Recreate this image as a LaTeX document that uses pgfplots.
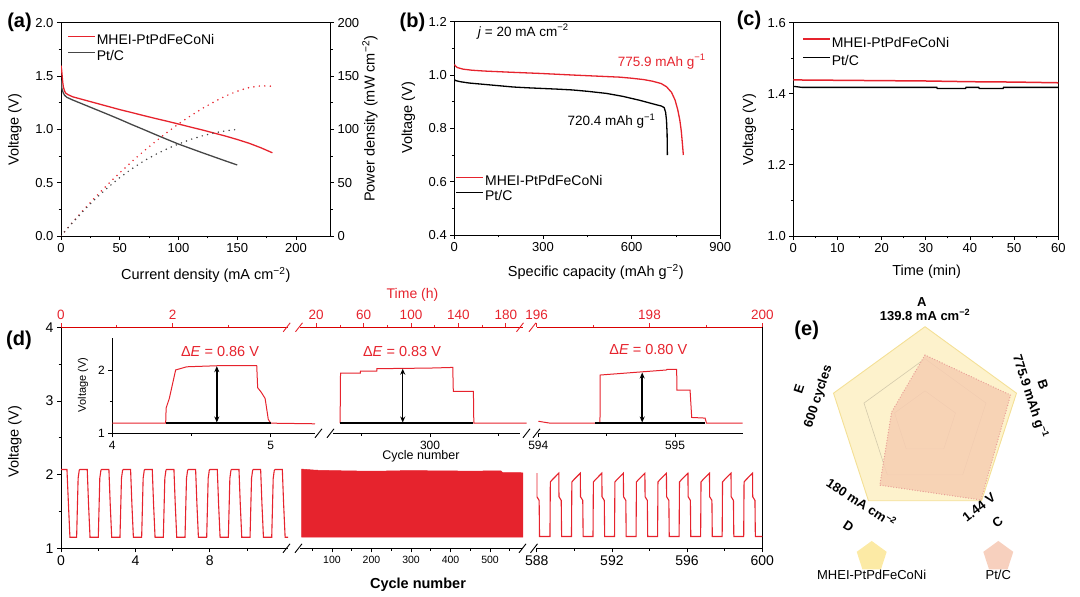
\documentclass[border=0pt]{standalone}
\usepackage{fontspec}
\setmainfont{Liberation Sans}
\usepackage{pgfplots}
\pgfplotsset{compat=1.18}
\usepgfplotslibrary{polar}
\usetikzlibrary{arrows.meta,shapes.geometric}

\definecolor{cred}{RGB}{230,35,45}
\definecolor{cgray}{RGB}{70,70,70}
\definecolor{eyel}{RGB}{253,242,204}
\definecolor{eyelline}{RGB}{244,224,150}
\definecolor{eyelleg}{RGB}{252,234,165}
\definecolor{epink}{RGB}{247,206,178}
\definecolor{epinkline}{RGB}{232,158,150}
\definecolor{epinkleg}{RGB}{247,208,190}
\definecolor{ering}{RGB}{212,202,172}

\newcommand\ft{\fontsize{13}{15}\selectfont}
\newcommand\fl{\fontsize{14.5}{16}\selectfont}
\newcommand\fpan{\fontsize{20}{22}\selectfont\bfseries}

\pgfplotsset{
  base/.style={scale only axis, anchor=south west, tick align=outside,
    major tick length=4pt, minor tick length=2.5pt,
    tick style={black, line width=0.8pt},
    axis line style={line width=0.9pt},
    tick label style={font=\ft},
    /pgf/number format/assume math mode=true},
  onedec/.style={yticklabel style={/pgf/number format/.cd, fixed, fixed zerofill, precision=1}},
  leg/.style={legend cell align=left,
    legend image code/.code={\draw[##1] (0pt,4.5pt) -- (27pt,4.5pt);},
    legend style={draw=none, fill=none, inner sep=0pt, row sep=#1,
      nodes={inner sep=1pt, text height=10.5pt, text depth=3pt, font=\fontsize{14}{16}\selectfont}}},
  dseg/.style={base, height=221pt, ymin=1, ymax=4, axis line style={-}},
  dtop/.style={base, height=221pt, ymin=0, ymax=1, axis x line*=top, axis y line=none,
    axis line style={-, red!85!black, line width=0.9pt}, tick style={cred, line width=0.8pt},
    xticklabel style={cred, font=\fontsize{13.5}{15}\selectfont}},
  dins/.style={base, height=95pt, ymin=1, ymax=2.5, axis line style={-},
    tick label style={font=\fontsize{12}{14}\selectfont}},
}

\begin{document}
\begin{tikzpicture}[x=1pt,y=1pt]
\useasboundingbox (0,0) rectangle (1080,597);

% ---------------- (a)
\begin{axis}[base, onedec, leg=0.5pt, at={(61pt,361pt)}, width=269pt, height=213.3pt,
  xmin=0, xmax=229, ymin=0, ymax=2, tick pos=left,
  xtick={0,50,100,150,200}, minor x tick num=1,
  ytick={0,0.5,1,1.5,2}, minor y tick num=1,
  legend style={at={(0.0234,0.952)}, anchor=north west}]
\addplot[cred, line width=1.3pt] coordinates {(0,1.60)(0.5,1.56)(1,1.50)(1.5,1.44)(2,1.40)(3,1.36)(4,1.34)(6,1.325)(10,1.305)(20,1.275)(30,1.245)(40,1.215)(50,1.185)(60,1.158)(70,1.13)(80,1.103)(90,1.077)(100,1.05)(110,1.022)(120,0.995)(130,0.966)(140,0.937)(150,0.905)(160,0.870)(170,0.828)(180,0.780)};
\addlegendentry{MHEI-PtPdFeCoNi}
\addplot[cgray, line width=1.3pt] coordinates {(0,1.46)(0.5,1.40)(1,1.37)(2,1.34)(3,1.32)(5,1.30)(10,1.275)(20,1.23)(30,1.185)(40,1.14)(50,1.094)(60,1.046)(70,1.0)(80,0.953)(90,0.907)(100,0.862)(110,0.822)(120,0.782)(130,0.743)(140,0.704)(150,0.666)};
\addlegendentry{Pt/C}
\end{axis}
\begin{axis}[base, at={(61pt,361pt)}, width=269pt, height=213.3pt,
  xmin=0, xmax=229, ymin=0, ymax=200, axis x line=none, axis y line*=right, axis line style={-},
  ytick={0,50,100,150,200}, minor y tick num=1]
\addplot[cred, line width=1.7pt, dash pattern=on 0pt off 5.5pt, line cap=round] coordinates {(0,0)(5,6.6)(10,13.05)(20,25.5)(30,37.35)(40,48.6)(50,59.25)(60,69.5)(70,79.1)(80,88.2)(90,96.9)(100,105)(110,112.4)(120,119.4)(130,125.6)(140,131.2)(150,135.75)(160,139.2)(170,140.8)(180,140.4)};
\addplot[cgray, line width=1.7pt, dash pattern=on 0pt off 5.5pt, line cap=round] coordinates {(0,0)(5,6.5)(10,12.75)(20,24.6)(30,35.6)(40,45.6)(50,54.7)(60,62.8)(70,70)(80,76.2)(90,81.6)(100,86.2)(110,90.4)(120,93.8)(130,96.6)(140,98.6)(150,99.9)};
\end{axis}
\node[font=\fpan] at (19.5,575) {(a)};
\node[font=\fl, rotate=90] at (15,467) {Voltage (V)};
\node[font=\fl] at (205.8,322) {Current density (mA cm\textsuperscript{−2})};
\node[font=\fl, rotate=90] at (370,478) {Power density (mW cm\textsuperscript{−2})};

% ---------------- (b)
\begin{axis}[base, onedec, leg=-0.5pt, at={(454.3pt,362pt)}, width=266pt, height=213.3pt,
  xmin=0, xmax=900, ymin=0.4, ymax=1.2, tick pos=left,
  xtick={0,300,600,900}, minor x tick num=1,
  ytick={0.4,0.6,0.8,1.0,1.2}, minor y tick num=1,
  legend style={at={(0.005,0.286)}, anchor=north west}]
\addplot[cred, line width=1.3pt] coordinates {(0,1.04)(3,1.035)(10,1.028)(30,1.022)(60,1.018)(100,1.015)(200,1.01)(290,1.006)(400,1.0)(500,0.995)(560,0.992)(600,0.988)(640,0.983)(670,0.977)(700,0.968)(718,0.956)(735,0.935)(747,0.906)(756,0.87)(763,0.831)(768,0.79)(772,0.74)(775,0.70)};
\addlegendentry{MHEI-PtPdFeCoNi}
\addplot[black, line width=1.3pt] coordinates {(0,0.983)(5,0.979)(20,0.975)(50,0.97)(100,0.965)(150,0.96)(200,0.955)(250,0.952)(290,0.95)(350,0.947)(400,0.944)(450,0.939)(515,0.931)(570,0.92)(628,0.905)(685,0.888)(700,0.884)(710,0.878)(715,0.86)(718,0.83)(720,0.78)(721,0.70)};
\addlegendentry{Pt/C}
\end{axis}
\node[font=\fpan] at (412.5,575) {(b)};
\node[font=\fl, rotate=90] at (408.3,479) {Voltage (V)};
\node[font=\fl] at (595.8,325.3) {Specific capacity (mAh g\textsuperscript{−2})};
\node[font=\fontsize{13.5}{15}\selectfont] at (523.3,565.3) {\textit{j} = 20 mA cm\textsuperscript{−2}};
\node[font=\fontsize{13.5}{15}\selectfont, text=cred] at (661.7,535.3) {775.9 mAh g\textsuperscript{−1}};
\node[font=\fontsize{13.5}{15}\selectfont] at (611.5,476) {720.4 mAh g\textsuperscript{−1}};

% ---------------- (c)
\begin{axis}[base, onedec, leg=2.9pt, at={(793.3pt,361pt)}, width=265pt, height=213.3pt,
  xmin=0, xmax=60, ymin=1.0, ymax=1.6, tick pos=left,
  xtick={0,10,20,30,40,50,60}, minor x tick num=1,
  ytick={1.0,1.2,1.4,1.6}, minor y tick num=1,
  legend style={at={(0.033,0.940)}, anchor=north west}]
\addplot[cred, line width=1.5pt] coordinates {(0,1.439)(10,1.438)(20,1.437)(30,1.436)(40,1.434)(50,1.433)(60,1.431)};
\addlegendentry{MHEI-PtPdFeCoNi}
\addplot[black, line width=1.3pt] coordinates {(0,1.421)(2,1.418)(30,1.418)(32.5,1.418)(32.6,1.415)(39,1.415)(39.1,1.418)(42,1.418)(42.1,1.415)(47.5,1.415)(47.6,1.418)(60,1.418)};
\addlegendentry{Pt/C}
\end{axis}
\node[font=\fpan] at (749,577) {(c)};
\node[font=\fl, rotate=90] at (749.3,467) {Voltage (V)};
\node[font=\fl] at (926.7,325.3) {Time (min)};

% ---------------- (d) main segments
\begin{axis}[dseg, at={(61pt,48.7pt)}, width=227pt, xmin=0, xmax=12.2,
  axis x line*=bottom, axis y line*=left, axis line style={-},
  xtick={0,4,8}, minor xtick={2,6,10}, ytick={1,2,3,4}, minor ytick={1.5,2.5,3.5},
  tick label style={font=\fontsize{14}{16}\selectfont}]
\addplot[cred, line width=1.1pt] coordinates {(0,2.07)(0.32,2.07)(0.40,1.6)(0.48,1.15)
(0.84,1.15)(0.92,1.95)(0.98,2.06)(1.02,2.07)(1.41,2.07)(1.48,1.6)(1.56,1.15)
(2.005,1.15)(2.085,1.95)(2.145,2.06)(2.185,2.07)(2.575,2.07)(2.645,1.6)(2.725,1.15)
(3.17,1.15)(3.25,1.95)(3.31,2.06)(3.35,2.07)(3.74,2.07)(3.81,1.6)(3.89,1.15)
(4.335,1.15)(4.415,1.95)(4.475,2.06)(4.515,2.07)(4.905,2.07)(4.975,1.6)(5.055,1.15)
(5.5,1.15)(5.58,1.95)(5.64,2.06)(5.68,2.07)(6.07,2.07)(6.14,1.6)(6.22,1.15)
(6.665,1.15)(6.745,1.95)(6.805,2.06)(6.845,2.07)(7.235,2.07)(7.305,1.6)(7.385,1.15)
(7.83,1.15)(7.91,1.95)(7.97,2.06)(8.01,2.07)(8.4,2.07)(8.47,1.6)(8.55,1.15)
(8.995,1.15)(9.075,1.95)(9.135,2.06)(9.175,2.07)(9.565,2.07)(9.635,1.6)(9.715,1.15)
(10.16,1.15)(10.24,1.95)(10.3,2.06)(10.34,2.07)(10.73,2.07)(10.8,1.6)(10.88,1.15)
(11.325,1.15)(11.405,1.95)(11.465,2.06)(11.505,2.07)(11.895,2.07)(11.965,1.6)(12.045,1.15)(12.2,1.15)};
\end{axis}
\begin{axis}[dseg, at={(300.4pt,48.7pt)}, width=222.8pt, xmin=20, xmax=584,
  axis x line*=bottom, axis y line=none, axis line style={-},
  xtick={100,200,300,400,500}, minor xtick={50,150,250,350,450,550},
  tick label style={font=\fontsize{10.5}{12}\selectfont}]
\addplot[fill=cred, draw=cred, line width=0.5pt] coordinates {(23,1.15)(23,2.075)(60,2.06)(100,2.055)(150,2.05)(200,2.047)(250,2.05)(300,2.056)(350,2.052)(400,2.05)(450,2.048)(500,2.05)(528,2.05)(532,2.027)(560,2.028)(583,2.025)(583,1.15)} --cycle;
\end{axis}
\begin{axis}[dseg, at={(536.7pt,48.7pt)}, width=225.6pt, xmin=588, xmax=600,
  axis x line*=bottom, axis y line*=right, axis line style={-},
  xtick={588,592,596,600}, minor xtick={590,594,598}, ytick=\empty,
  tick label style={font=\fontsize{14}{16}\selectfont}]
\addplot[cred, line width=1.1pt] coordinates {(588,2.02)(588.01,1.70)(588.13,1.65)(588.15,1.16)
(588.705,1.16)(588.725,1.9)(588.825,1.93)(589.175,2.02)(589.185,1.70)(589.305,1.65)(589.325,1.16)
(589.85,1.16)(589.87,1.9)(589.97,1.93)(590.32,2.02)(590.33,1.70)(590.45,1.65)(590.47,1.16)
(590.995,1.16)(591.015,1.9)(591.115,1.93)(591.465,2.02)(591.475,1.70)(591.595,1.65)(591.615,1.16)
(592.14,1.16)(592.16,1.9)(592.26,1.93)(592.61,2.02)(592.62,1.70)(592.74,1.65)(592.76,1.16)
(593.285,1.16)(593.305,1.9)(593.405,1.93)(593.755,2.02)(593.765,1.70)(593.885,1.65)(593.905,1.16)
(594.43,1.16)(594.45,1.9)(594.55,1.93)(594.9,2.02)(594.91,1.70)(595.03,1.65)(595.05,1.16)
(595.575,1.16)(595.595,1.9)(595.695,1.93)(596.045,2.02)(596.055,1.70)(596.175,1.65)(596.195,1.16)
(596.72,1.16)(596.74,1.9)(596.84,1.93)(597.19,2.02)(597.2,1.70)(597.32,1.65)(597.34,1.16)
(597.865,1.16)(597.885,1.9)(597.985,1.93)(598.335,2.02)(598.345,1.70)(598.465,1.65)(598.485,1.16)
(599.01,1.16)(599.03,1.9)(599.13,1.93)(599.48,2.02)(599.49,1.70)(599.61,1.65)(599.63,1.16)(600,1.16)};
\end{axis}
% top time axis (h)
\begin{axis}[dtop, at={(61pt,48.7pt)}, width=227pt, xmin=0, xmax=4.0667, xtick={0,2}, minor xtick={1,3}]
\end{axis}
\begin{axis}[dtop, at={(300.4pt,48.7pt)}, width=222.8pt, xmin=6.667, xmax=194.667,
  xtick={20,60,100,140,180}, minor xtick={40,80,120,160}]
\end{axis}
\begin{axis}[dtop, at={(536.7pt,48.7pt)}, width=225.6pt, xmin=196, xmax=200,
  xtick={196,198,200}, minor xtick={197,199}]
\end{axis}
% insets
\begin{axis}[dins, at={(112.3pt,163.7pt)}, width=202.7pt, xmin=4, xmax=5.28,
  axis x line*=bottom, axis y line*=left, axis line style={-},
  xtick={4,5}, minor xtick={4.5}, ytick={1,2}, minor ytick={1.5}]
\addplot[cred, line width=1pt] coordinates {(4.0,1.16)(4.337,1.16)(4.34,1.40)(4.36,1.55)(4.40,2.0)(4.47,2.05)(4.70,2.07)(4.912,2.07)(4.918,1.72)(4.94,1.65)(4.965,1.55)(4.985,1.22)(5.0,1.16)(5.28,1.15)};
\addplot[black, line width=1.5pt] coordinates {(4.337,1.16)(5.0,1.16)};
\addplot[black, line width=1.5pt, {Stealth[length=6pt,width=5pt]}-{Stealth[length=6pt,width=5pt]}] coordinates {(4.66,1.17)(4.66,2.06)};
\end{axis}
\begin{axis}[dins, at={(333pt,163.7pt)}, width=187.3pt, xmin=299.29, xmax=300.66, clip=false,
  axis x line*=bottom, axis y line=none, axis line style={-},
  xtick={300}, minor xtick={299.5,300.5}]
\addplot[cred, line width=1pt] coordinates {(299.342,1.16)(299.345,1.95)(299.49,1.95)(299.491,1.98)(299.61,1.98)(299.611,2.02)(300.0,2.03)(300.166,2.04)(300.17,1.66)(300.317,1.66)(300.32,1.16)(300.707,1.16)};
\addplot[black, line width=1.5pt] coordinates {(299.342,1.16)(300.317,1.16)};
\addplot[black, line width=1.5pt, {Stealth[length=6pt,width=5pt]}-{Stealth[length=6pt,width=5pt]}] coordinates {(299.8,1.17)(299.8,2.02)};
\end{axis}
\begin{axis}[dins, at={(538.3pt,163.7pt)}, width=204.4pt, xmin=594, xmax=595.495,
  axis x line*=bottom, axis y line=none, axis line style={-},
  xtick={594,595}, minor xtick={594.5}]
\addplot[cred, line width=1pt] coordinates {(594.0,1.19)(594.086,1.16)(594.451,1.16)(594.453,1.92)(594.939,2.0)(594.941,2.01)(595.012,2.01)(595.014,1.68)(595.11,1.68)(595.122,1.25)(595.22,1.24)(595.23,1.16)(595.495,1.16)};
\addplot[black, line width=1.5pt] coordinates {(594.415,1.16)(595.22,1.16)};
\addplot[black, line width=1.5pt, {Stealth[length=6pt,width=5pt]}-{Stealth[length=6pt,width=5pt]}] coordinates {(594.76,1.17)(594.76,1.96)};
\end{axis}
% break marks
\foreach \bx in {286.5,298.5,522.5,534} \draw[line width=0.9pt] (\bx-3.5,48.7-4.5) -- (\bx+3.5,48.7+4.5);
\foreach \bx in {286.7,299,520,532.5} \draw[line width=0.9pt, cred] (\bx-3.5,269.7-4.5) -- (\bx+3.5,269.7+4.5);
\foreach \bx in {318.5,330.5,526.5,536.5} \draw[line width=0.9pt] (\bx-3.5,163.7-4.5) -- (\bx+3.5,163.7+4.5);
\node[font=\fpan] at (19,257) {(d)};
\node[font=\fl, rotate=90] at (15,155) {Voltage (V)};
\node[font=\fontsize{14.5}{16}\selectfont\bfseries] at (418,12) {Cycle number};
\node[font=\fontsize{14}{16}\selectfont, text=cred] at (412.5,302) {Time (h)};
\node[font=\fontsize{11}{13}\selectfont, rotate=90] at (83,212) {Voltage (V)};
\node[font=\fontsize{12.5}{14}\selectfont] at (421,140.3) {Cycle number};
\node[font=\fontsize{14.5}{16}\selectfont, text=cred] at (220,245.3) {Δ\textit{E} = 0.86 V};
\node[font=\fontsize{14.5}{16}\selectfont, text=cred] at (402,245.3) {Δ\textit{E} = 0.83 V};
\node[font=\fontsize{14.5}{16}\selectfont, text=cred] at (648.3,247) {Δ\textit{E} = 0.80 V};

% ---------------- (e)
\begin{polaraxis}[hide axis, scale only axis, width=192.4pt, height=192.4pt,
  at={(925pt,174.1pt)}, anchor=center, ymin=0, ymax=1, clip=false]
\addplot[fill=eyel, draw=eyelline, line width=0.9pt] coordinates {(90,1)(18,1)(-54,1)(-126,1)(162,1)(90,1)};
\addplot[ering, line width=0.6pt] coordinates {(90,0.667)(18,0.667)(-54,0.667)(-126,0.667)(162,0.667)(90,0.667)};
\addplot[ering, line width=0.6pt] coordinates {(90,0.333)(18,0.333)(-54,0.333)(-126,0.333)(162,0.333)(90,0.333)};
\addplot[fill=epink, fill opacity=0.85, draw=epinkline, line width=1.3pt, dash pattern=on 0pt off 2.7pt, line cap=round] coordinates {(90,0.706)(18,0.935)(-54,0.99)(-126,0.80)(162,0.365)(90,0.706)};
\end{polaraxis}
\node[font=\fpan] at (806.7,267) {(e)};
\begin{scope}[font=\fontsize{13}{15}\selectfont\bfseries]
\node at (921.7,294.5) {A};
\node at (925,282) {139.8 mA cm\textsuperscript{−2}};
\node[rotate=-72] at (1043,212.5) {B};
\node[rotate=-72] at (1030,200.3) {775.9 mAh g\textsuperscript{−1}};
\node[rotate=38] at (997.5,74.5) {C};
\node[rotate=38] at (979,89.5) {1.44 V};
\node[rotate=-33] at (848.5,71) {D};
\node[rotate=-33] at (861.5,94.5) {180 mA cm\textsuperscript{−2}};
\node[rotate=72] at (799,208) {E};
\node[rotate=72] at (818.5,200.3) {600 cycles};
\end{scope}
\node[regular polygon, regular polygon sides=5, minimum size=31.5pt, inner sep=0pt, fill=eyelleg] at (871.7,40.3) {};
\node[regular polygon, regular polygon sides=5, minimum size=31.5pt, inner sep=0pt, fill=epinkleg] at (998.3,40.3) {};
\node[font=\fontsize{13}{15}\selectfont] at (871.7,22) {MHEI-PtPdFeCoNi};
\node[font=\fontsize{13}{15}\selectfont] at (998.3,22) {Pt/C};
\end{tikzpicture}
\end{document}
